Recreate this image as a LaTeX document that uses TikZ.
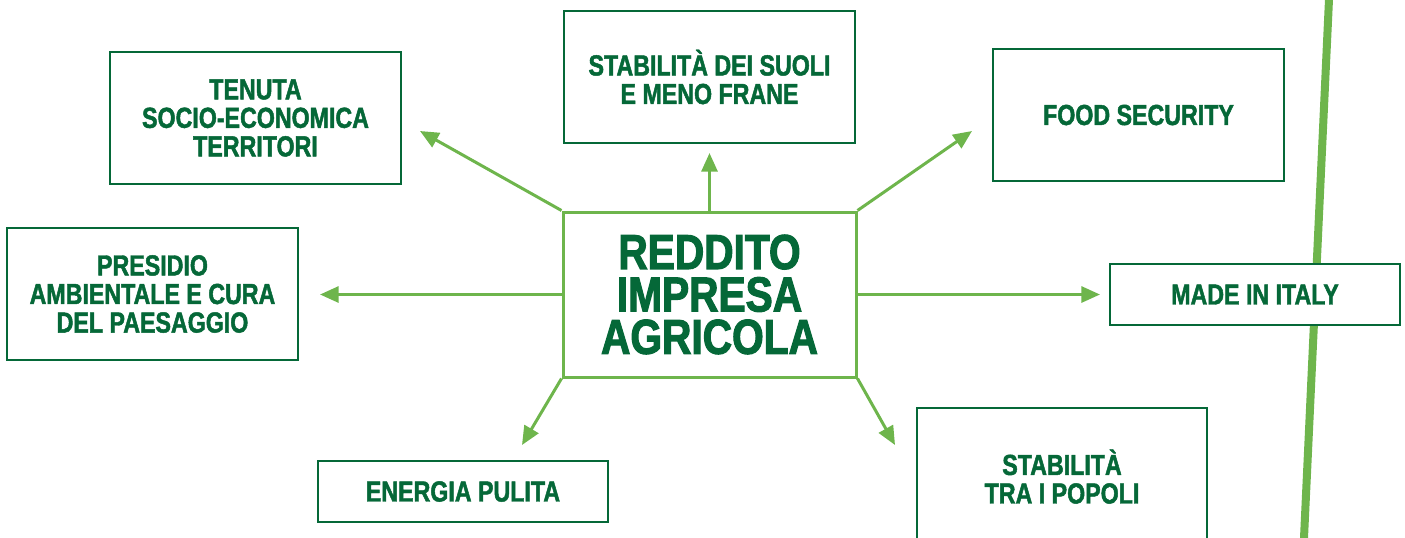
\documentclass[tikz,border=0pt]{standalone}
\usepackage{fontspec}
\newfontfamily\cf{Liberation Sans}[FakeStretch=0.8, FakeBold=1.6]
\newfontfamily\cfbig{Liberation Sans}[FakeStretch=0.83, FakeBold=2.2]
\usetikzlibrary{arrows.meta}
\definecolor{dgreen}{RGB}{5,104,56}
\definecolor{lgreen}{RGB}{110,181,76}
\tikzset{
  outbox/.style={draw=dgreen, line width=1.9pt, fill=white, text=dgreen, align=center,
    font=\cf\bfseries\fontsize{21.75}{21.4}\selectfont, inner sep=0pt},
  mainbox/.style={draw=lgreen, line width=2.25pt, fill=white, text=dgreen, align=center,
    font=\cfbig\bfseries\fontsize{36.75}{31.8}\selectfont, inner sep=0pt,
    minimum width=293*0.75pt, minimum height=165*0.75pt},
  arr/.style={draw=lgreen, line width=2.25pt, -{Triangle[length=14pt,width=12pt]}},
  bigline/.style={draw=lgreen, line width=6pt}
}
\begin{document}
\begin{tikzpicture}[x=0.75pt, y=-0.75pt]
\useasboundingbox (0,0) rectangle (1405,537);
% long vertical line
\coordinate (lt) at (1329.2,-5);
\coordinate (lb) at (1303.8,542);
\draw[bigline] (lt) -- (lb);
% boxes
\node[outbox, minimum width=291*0.75pt, minimum height=132*0.75pt] (tenuta) at (255.5,118)
  {TENUTA\\SOCIO-ECONOMICA\\TERRITORI};
\node[outbox, minimum width=291*0.75pt, minimum height=132*0.75pt] (suoli) at (709.5,77)
  {STABILITÀ DEI SUOLI\\E MENO FRANE};
\node[outbox, minimum width=291*0.75pt, minimum height=132*0.75pt] (food) at (1138.5,115)
  {FOOD SECURITY};
\node[outbox, minimum width=291*0.75pt, minimum height=132*0.75pt] (presidio) at (152.5,294)
  {PRESIDIO\\AMBIENTALE E CURA\\DEL PAESAGGIO};
\node[outbox, minimum width=290*0.75pt, minimum height=61*0.75pt] (made) at (1255,294.5)
  {MADE IN ITALY};
\node[outbox, minimum width=290*0.75pt, minimum height=61*0.75pt] (energia) at (463,491.5)
  {ENERGIA PULITA};
\node[outbox, minimum width=290*0.75pt, minimum height=137*0.75pt] (popoli) at (1062,476.5)
  {STABILITÀ\\TRA I POPOLI};
% centre
\node[mainbox] (c) at (709.5,294.5) {REDDITO\\IMPRESA\\AGRICOLA};
% arrow ends
\coordinate (e1) at (420,131);
\coordinate (e2) at (709.5,153);
\coordinate (e3) at (972,131);
\coordinate (e4) at (320,294.5);
\coordinate (e5) at (1100,294.5);
\coordinate (e6) at (522,445);
\coordinate (e7) at (895,445);
\draw[arr] (c.north west) -- (e1);
\draw[arr] (c.north) -- (e2);
\draw[arr] (c.north east) -- (e3);
\draw[arr] (c.west) -- (e4);
\draw[arr] (c.east) -- (e5);
\draw[arr] (c.south west) -- (e6);
\draw[arr] (c.south east) -- (e7);
\end{tikzpicture}
\end{document}
